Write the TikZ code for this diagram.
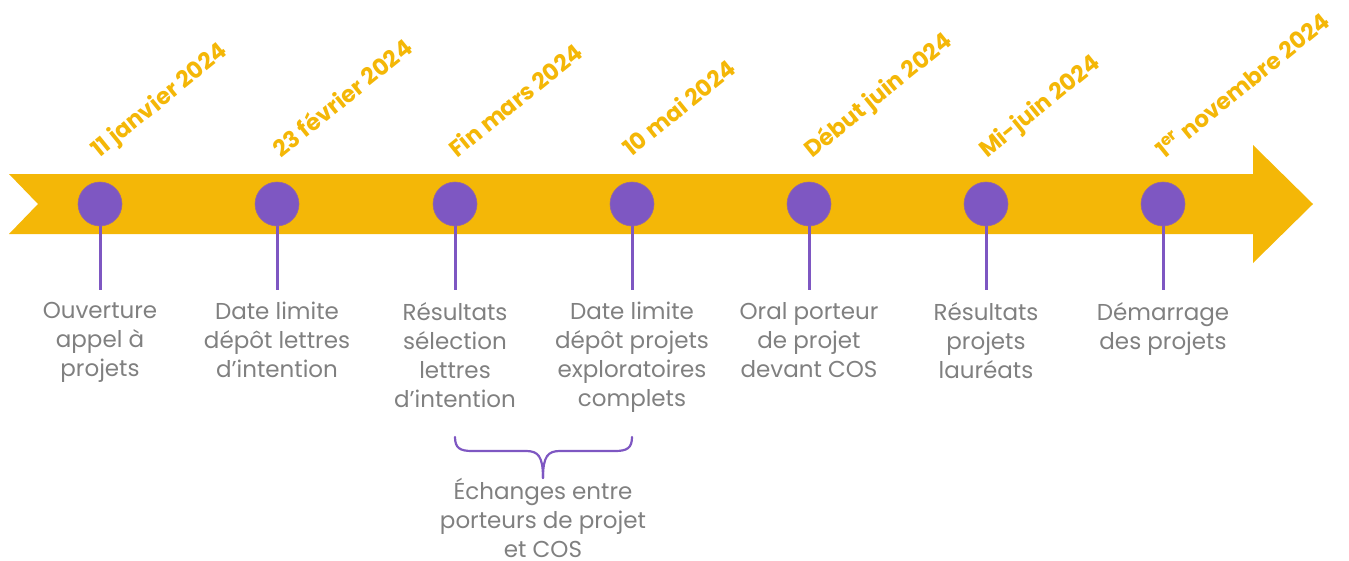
\documentclass[tikz,border=0pt]{standalone}
\usepackage{fontspec}
\setmainfont{Poppins}
\definecolor{gold}{HTML}{F4B707}
\definecolor{violet}{HTML}{7E57C2}
\definecolor{txtgray}{HTML}{808080}
\begin{document}
\begin{tikzpicture}[x=1pt,y=-1pt,
  dot/.style={circle,fill=violet,draw=violet!80!gold,line width=0.6pt,minimum size=44pt,inner sep=0pt},
  stem/.style={violet,line width=3pt},
  lbl/.style={anchor=north,align=center,text=txtgray,font=\fontsize{23}{29}\selectfont,inner sep=0pt},
  datelbl/.style={anchor=base west,rotate=39,text=gold,font=\fontsize{23}{26}\selectfont\bfseries,inner sep=0pt}]
\useasboundingbox (0,0) rectangle (1349,560);
% arrow band
\fill[gold] (9,174) -- (1253,174) -- (1253,145) -- (1313,204) -- (1253,263) -- (1253,234) -- (9,234) -- (38,204) -- cycle;
% dots, stems, labels
\foreach \i/\x/\txt in {1/100/{Ouverture\\appel à\\projets},
                        2/277/{Date limite\\dépôt lettres\\d’intention},
                        3/455/{Résultats\\sélection\\lettres\\d’intention},
                        4/632/{Date limite\\dépôt projets\\exploratoires\\complets},
                        5/809/{Oral porteur\\de projet\\devant COS},
                        6/986/{Résultats\\projets\\lauréats},
                        7/1163/{Démarrage\\des projets}}{
  \coordinate (s\i) at (\x,290);
  \draw[stem] (\x,204) -- (s\i);
  \node[dot] (d\i) at (\x,204) {};
  \node[lbl] (l\i) at (\x,302) {\txt};
}
% dates
\node[datelbl] (t1) at (99,159) {11 janvier 2024};
\node[datelbl] (t2) at (281,159) {23 février 2024};
\node[datelbl] (t3) at (457,159) {Fin mars 2024};
\node[datelbl] (t4) at (631,158) {10 mai 2024};
\node[datelbl] (t5) at (812,159) {Début juin 2024};
\node[datelbl] (t6) at (987,159) {Mi-juin 2024};
\node[datelbl] (t7) at (1164,160) {1\textsuperscript{er} novembre 2024};
% brace
\coordinate (b1) at (455,437);
\coordinate (b2) at (632,437);
\coordinate (bt) at (543,478);
\draw[violet,line width=2.2pt,line cap=round]
  (b1) .. controls (455,448) and (460,451) .. (472,451) -- (526,451)
  .. controls (538,451) and (543,456) .. (bt);
\draw[violet,line width=2.2pt,line cap=round]
  (b2) .. controls (632,448) and (627,451) .. (615,451) -- (560,451)
  .. controls (548,451) and (543,456) .. (bt);
\node[lbl] (ech) at (543,478) {Échanges entre\\porteurs de projet\\et COS};
\end{tikzpicture}
\end{document}
